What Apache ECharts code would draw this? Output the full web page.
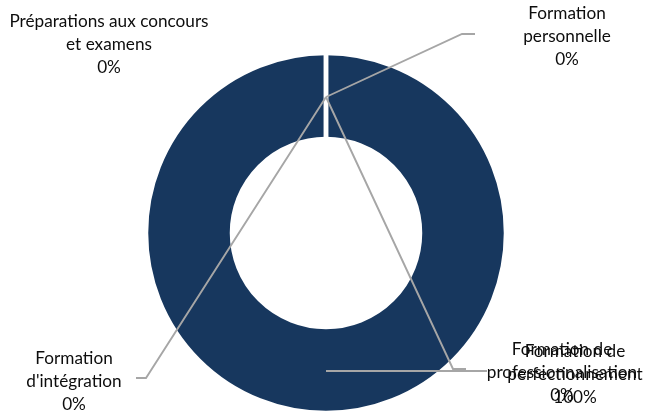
<!DOCTYPE html>
<html>
<head>
<meta charset="utf-8">
<script src="https://cdn.jsdelivr.net/npm/echarts@6/dist/echarts.min.js"></script>
<style>
html,body{margin:0;padding:0;background:#fff;}
#c{width:657px;height:414px;}
</style>
</head>
<body>
<div id="c"></div>
<script>
// Data
var categories = [
  "Formation d'intégration",
  "Formation de professionnalisation",
  "Formation de perfectionnement",
  "Préparations aux concours et examens",
  "Formation personnelle"
];
var labelNames = [
  "Formation\nd'intégration",
  "Formation de\nprofessionnalisation",
  "Formation de\nperfectionnement",
  "Préparations aux concours\net examens",
  "Formation\npersonnelle"
];
var values = [0, 0, 100, 0, 0];

// Label placement (layout only)
var labelPlacement = [
  {x: 74,  y: 381, line: [[326, 97], [146, 378], [136, 378]]},
  {x: 562, y: 372, line: [[326, 97], [453, 369], [466, 369]]},
  {x: 575, y: 374, line: [[326, 371], [480, 371], [487, 371]]},
  {x: 109, y: 44,  line: null},
  {x: 567, y: 36,  line: [[326, 97], [462, 34], [475, 34]]}
];

var chart = echarts.init(document.getElementById('c'));
var center = [326, 233];
var radius = [94, 180];

var ringData = categories.map(function (c, i) {
  return {name: c, value: values[i]};
});
var labelData = categories.map(function (c, i) {
  var d = {name: c, value: values[i]};
  if (!labelPlacement[i].line) d.labelLine = {show: false};
  return d;
});

chart.setOption({
  animation: false,
  series: [{
    type: 'pie',
    z: 2,
    center: center,
    radius: radius,
    startAngle: 90,
    clockwise: true,
    silent: true,
    data: ringData,
    itemStyle: {color: '#17375E', borderColor: '#ffffff', borderWidth: 4.5},
    label: {show: false},
    labelLine: {show: false},
    emphasis: {disabled: true}
  }, {
    type: 'pie',
    z: 5,
    center: center,
    radius: radius,
    startAngle: 90,
    clockwise: true,
    silent: true,
    avoidLabelOverlap: false,
    data: labelData,
    itemStyle: {color: 'rgba(0,0,0,0)', borderWidth: 0},
    label: {
      show: true,
      position: 'outside',
      color: '#0d0d0d',
      fontFamily: 'Lato',
      fontSize: 17.2,
      lineHeight: 23,
      align: 'center',
      formatter: function (p) {
        return labelNames[p.dataIndex] + '\n' + Math.round(p.percent) + '%';
      }
    },
    labelLine: {
      show: true,
      lineStyle: {color: '#a6a6a6', width: 1.9}
    },
    labelLayout: function (params) {
      var pl = labelPlacement[params.dataIndex];
      var o = {x: pl.x, y: pl.y, align: 'center', verticalAlign: 'middle'};
      if (pl.line) o.labelLinePoints = pl.line;
      return o;
    },
    emphasis: {disabled: true}
  }]
});
</script>
</body>
</html>
